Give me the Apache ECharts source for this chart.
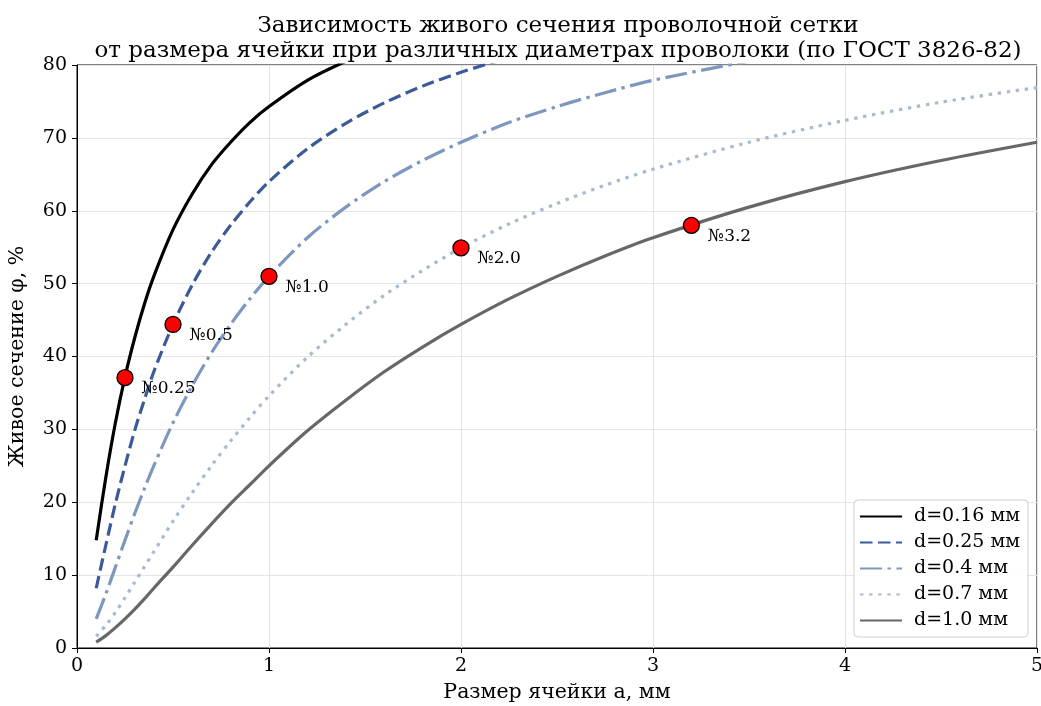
<!DOCTYPE html>
<html>
<head>
<meta charset="utf-8">
<script src="https://cdn.jsdelivr.net/npm/echarts@6/dist/echarts.min.js"></script>
<style>
html, body { margin: 0; padding: 0; background: #fff; }
#chart { width: 1041px; height: 706px; }
</style>
</head>
<body>
<div id="chart"></div>
<script>
// размер ячейки a, мм
const cellSizes = [0.1, 0.15, 0.2, 0.25, 0.3, 0.35, 0.4, 0.5, 0.6, 0.7, 0.8, 0.9, 1.0,
  1.2, 1.4, 1.6, 1.8, 2.0, 2.25, 2.5, 2.75, 3.0, 3.5, 4.0, 4.5, 5.0];

// живое сечение, % (по кривым)
const phiD016 = [14.8, 23.4, 30.9, 37.2, 42.5, 47.1, 51.0, 57.4, 62.3, 66.3, 69.4, 72.1, 74.3,
  77.9, 80.5, 82.6, 84.3, 85.7, 87.2, 88.3, 89.3, 90.1, 91.4, 92.5, 93.3, 93.9];
const phiD025 = [8.2, 14.1, 19.8, 25.0, 29.8, 34.0, 37.9, 44.4, 49.8, 54.3, 58.0, 61.2, 64.0,
  68.5, 72.0, 74.8, 77.1, 79.0, 81.0, 82.6, 84.0, 85.2, 87.1, 88.6, 89.8, 90.7];
const phiD04 = [4.0, 7.4, 11.1, 14.8, 18.4, 21.8, 25.0, 30.9, 36.0, 40.5, 44.4, 47.9, 51.0,
  56.3, 60.5, 64.0, 66.9, 69.4, 72.1, 74.3, 76.2, 77.9, 80.5, 82.6, 84.3, 85.7];
const phiD07 = [1.6, 3.1, 4.9, 6.9, 9.0, 11.1, 13.2, 17.4, 21.3, 25.0, 28.4, 31.6, 34.6,
  39.9, 44.4, 48.4, 51.8, 54.9, 58.2, 61.0, 63.5, 65.7, 69.4, 72.4, 74.9, 76.9];
const phiD10 = [0.8, 1.7, 2.8, 4.0, 5.3, 6.7, 8.2, 11.1, 14.1, 17.0, 19.8, 22.4, 25.0,
  29.8, 34.0, 37.9, 41.3, 44.4, 47.9, 51.0, 53.8, 56.3, 60.5, 64.0, 66.9, 69.4];

// сетки по ГОСТ
const meshNames = ["№0.25", "№0.5", "№1.0", "№2.0", "№3.2"];
const meshA = [0.25, 0.5, 1.0, 2.0, 3.2];
const meshPhi = [37.1, 44.4, 51.0, 54.9, 58.0];

const FONT = "'DejaVu Serif', serif";

function pairs(ys) {
  return cellSizes.map((x, i) => [x, ys[i]]);
}

function curve(name, ys, color, type) {
  return {
    name: name,
    type: "line",
    data: pairs(ys),
    smooth: 0.3,
    showSymbol: false,
    symbol: "none",
    clip: true,
    lineStyle: { color: color, width: 3.2, type: type },
    itemStyle: { color: color },
    z: 3,
  };
}

const chart = echarts.init(document.getElementById("chart"));
chart.setOption({
  animation: false,
  textStyle: { fontFamily: FONT },
  title: {
    text: "Зависимость живого сечения проволочной сетки\nот размера ячейки при различных диаметрах проволоки (по ГОСТ 3826-82)",
    left: 553,
    top: 9,
    textAlign: "center",
    textStyle: { fontFamily: FONT, fontSize: 23, fontWeight: "normal", color: "#000", lineHeight: 25 },
  },
  grid: {
    left: 77,
    right: 4,
    top: 65,
    bottom: 58,
    outerBoundsMode: "none",
    containLabel: false,
    show: true,
    borderColor: "#000",
    borderWidth: 1,
    backgroundColor: "#fff",
  },
  legend: {
    orient: "vertical",
    right: 13,
    bottom: 69,
    itemWidth: 42,
    itemHeight: 10,
    itemGap: 7,
    padding: [7, 8, 7, 5],
    backgroundColor: "rgba(255,255,255,0.9)",
    borderColor: "#d0d0d0",
    borderWidth: 1,
    borderRadius: 4,
    itemStyle: { opacity: 0 },
    textStyle: { fontFamily: FONT, fontSize: 19, color: "#000", padding: [0, 0, 0, 7] },
    data: ["d=0.16 мм", "d=0.25 мм", "d=0.4 мм", "d=0.7 мм", "d=1.0 мм"],
  },
  xAxis: {
    type: "value",
    min: 0,
    max: 5,
    interval: 1,
    name: "Размер ячейки a, мм",
    nameLocation: "middle",
    nameGap: 34,
    nameTextStyle: { fontFamily: FONT, fontSize: 20.5, color: "#000" },
    axisLine: { show: true, onZero: false, lineStyle: { color: "#000", width: 1 } },
    axisTick: { show: true, length: 5, lineStyle: { color: "#000" } },
    axisLabel: { fontFamily: FONT, fontSize: 19, color: "#000", margin: 9 },
    splitLine: { show: true, lineStyle: { color: "#e5e5e5", width: 1 } },
  },
  yAxis: {
    type: "value",
    min: 0,
    max: 80,
    interval: 10,
    name: "Живое сечение φ, %",
    nameLocation: "middle",
    nameGap: 49,
    nameTextStyle: { fontFamily: FONT, fontSize: 20.5, color: "#000" },
    axisLine: { show: true, onZero: false, lineStyle: { color: "#000", width: 1 } },
    axisTick: { show: true, length: 5, lineStyle: { color: "#000" } },
    axisLabel: { fontFamily: FONT, fontSize: 19, color: "#000", margin: 10 },
    splitLine: { show: true, lineStyle: { color: "#e5e5e5", width: 1 } },
  },
  series: [
    curve("d=0.16 мм", phiD016, "#000000", "solid"),
    curve("d=0.25 мм", phiD025, "#3a5a9a", [12.5, 5.5]),
    curve("d=0.4 мм", phiD04, "#7d97be", [22, 5.5, 3.4, 5.5]),
    curve("d=0.7 мм", phiD07, "#a9b9cf", [3.4, 5.7]),
    curve("d=1.0 мм", phiD10, "#676767", "solid"),
    {
      name: "ГОСТ",
      type: "scatter",
      data: meshA.map((a, i) => ({ value: [a, meshPhi[i]], name: meshNames[i] })),
      symbolSize: 16,
      itemStyle: { color: "#ff0000", borderColor: "#000", borderWidth: 1.3, opacity: 1 },
      label: {
        show: true,
        position: "right",
        distance: 6,
        offset: [2, 11],
        formatter: (p) => p.name,
        fontFamily: FONT,
        fontSize: 17,
        color: "#000",
      },
      z: 5,
    },
  ],
});
</script>
</body>
</html>
